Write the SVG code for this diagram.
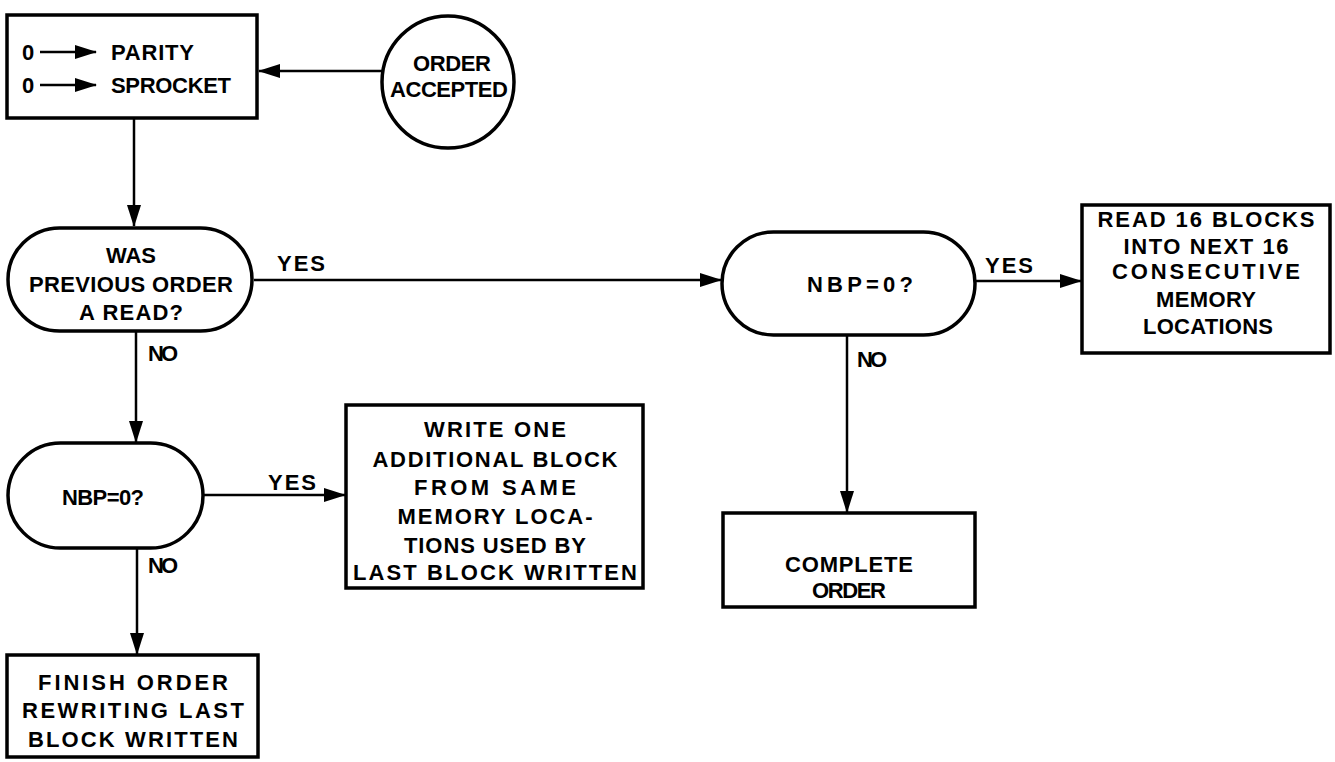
<svg xmlns="http://www.w3.org/2000/svg" width="1335" height="762" viewBox="0 0 1335 762">
<style>
.box{fill:#fff;stroke:#000;stroke-width:3.5}
.ln{fill:none;stroke:#000;stroke-width:2.5}
.t{font-family:"Liberation Sans",Arial,sans-serif;font-weight:bold;font-size:22px;fill:#000;text-anchor:middle}
.l{font-family:"Liberation Sans",Arial,sans-serif;font-weight:bold;font-size:22px;fill:#000}
</style>
<defs>
<marker id="ah" markerWidth="22" markerHeight="14" refX="21" refY="7" orient="auto" markerUnits="userSpaceOnUse">
<path d="M0,0 L22,7 L0,14 Z" fill="#000"/>
</marker>
</defs>
<rect width="1335" height="762" fill="#fff"/>
<g id="connectors">
<line class="ln" x1="382" y1="71" x2="259" y2="71" marker-end="url(#ah)"/>
<line class="ln" x1="134" y1="119" x2="134" y2="226" marker-end="url(#ah)"/>
<line class="ln" x1="254" y1="280" x2="721" y2="280" marker-end="url(#ah)"/>
<line class="ln" x1="136" y1="332" x2="136" y2="442" marker-end="url(#ah)"/>
<line class="ln" x1="204" y1="495" x2="345" y2="495" marker-end="url(#ah)"/>
<line class="ln" x1="137" y1="549" x2="137" y2="654" marker-end="url(#ah)"/>
<line class="ln" x1="976" y1="281" x2="1081" y2="281" marker-end="url(#ah)"/>
<line class="ln" x1="847" y1="336" x2="847" y2="512" marker-end="url(#ah)"/>
<text class="l" x="277" y="271" textLength="48" lengthAdjust="spacing">YES</text>
<text class="l" x="148" y="361" textLength="30" lengthAdjust="spacing">NO</text>
<text class="l" x="268" y="490" textLength="48" lengthAdjust="spacing">YES</text>
<text class="l" x="148" y="573" textLength="30" lengthAdjust="spacing">NO</text>
<text class="l" x="985" y="273" textLength="48" lengthAdjust="spacing">YES</text>
<text class="l" x="857" y="367" textLength="30" lengthAdjust="spacing">NO</text>
</g>
<g id="init">
<rect class="box" x="7" y="15" width="250" height="103"/>
<text class="l" x="22" y="60">0</text>
<line class="ln" x1="40" y1="52" x2="96" y2="52" marker-end="url(#ah)"/>
<text class="l" x="111" y="60" textLength="83" lengthAdjust="spacing">PARITY</text>
<text class="l" x="22" y="93">0</text>
<line class="ln" x1="40" y1="85" x2="96" y2="85" marker-end="url(#ah)"/>
<text class="l" x="111" y="93" textLength="120" lengthAdjust="spacing">SPROCKET</text>
</g>
<g id="start">
<circle class="box" cx="448" cy="82" r="66"/>
<text class="t" x="452" y="71" textLength="78" lengthAdjust="spacing">ORDER</text>
<text class="t" x="449" y="97" textLength="118" lengthAdjust="spacing">ACCEPTED</text>
</g>
<g id="prevRead">
<rect class="box" x="8" y="228" width="244" height="103" rx="51.5"/>
<text class="t" x="131" y="263" textLength="50" lengthAdjust="spacing">WAS</text>
<text class="t" x="131" y="292" textLength="204" lengthAdjust="spacing">PREVIOUS ORDER</text>
<text class="t" x="131" y="320" textLength="104" lengthAdjust="spacing">A READ?</text>
</g>
<g id="nbpWrite">
<rect class="box" x="8" y="443" width="195" height="105" rx="52.5"/>
<text class="t" x="103" y="505" textLength="82" lengthAdjust="spacing">NBP=0?</text>
</g>
<g id="writeOne">
<rect class="box" x="346" y="405" width="297" height="183"/>
<text class="t" x="495" y="437" textLength="142" lengthAdjust="spacing">WRITE ONE</text>
<text class="t" x="495" y="467" textLength="245" lengthAdjust="spacing">ADDITIONAL BLOCK</text>
<text class="t" x="495" y="495" textLength="162" lengthAdjust="spacing">FROM SAME</text>
<text class="t" x="495" y="524" textLength="195" lengthAdjust="spacing">MEMORY LOCA-</text>
<text class="t" x="495" y="553" textLength="182" lengthAdjust="spacing">TIONS USED BY</text>
<text class="t" x="495" y="580" textLength="284" lengthAdjust="spacing">LAST BLOCK WRITTEN</text>
</g>
<g id="finish">
<rect class="box" x="7" y="655" width="251" height="102"/>
<text class="t" x="133" y="690" textLength="190" lengthAdjust="spacing">FINISH ORDER</text>
<text class="t" x="133" y="718" textLength="222" lengthAdjust="spacing">REWRITING LAST</text>
<text class="t" x="133" y="747" textLength="210" lengthAdjust="spacing">BLOCK WRITTEN</text>
</g>
<g id="nbpRead">
<rect class="box" x="722" y="232" width="253" height="103" rx="51.5"/>
<text class="t" x="860" y="292" textLength="106" lengthAdjust="spacing">NBP=0?</text>
</g>
<g id="read16">
<rect class="box" x="1082" y="205" width="248" height="148"/>
<text class="t" x="1206" y="227" textLength="217" lengthAdjust="spacing">READ 16 BLOCKS</text>
<text class="t" x="1206" y="254" textLength="165" lengthAdjust="spacing">INTO NEXT 16</text>
<text class="t" x="1206" y="279" textLength="188" lengthAdjust="spacing">CONSECUTIVE</text>
<text class="t" x="1206" y="307" textLength="100" lengthAdjust="spacing">MEMORY</text>
<text class="t" x="1208" y="334" textLength="130" lengthAdjust="spacing">LOCATIONS</text>
</g>
<g id="complete">
<rect class="box" x="723" y="513" width="252" height="94"/>
<text class="t" x="849" y="572" textLength="128" lengthAdjust="spacing">COMPLETE</text>
<text class="t" x="849" y="598" textLength="74" lengthAdjust="spacing">ORDER</text>
</g>
</svg>
